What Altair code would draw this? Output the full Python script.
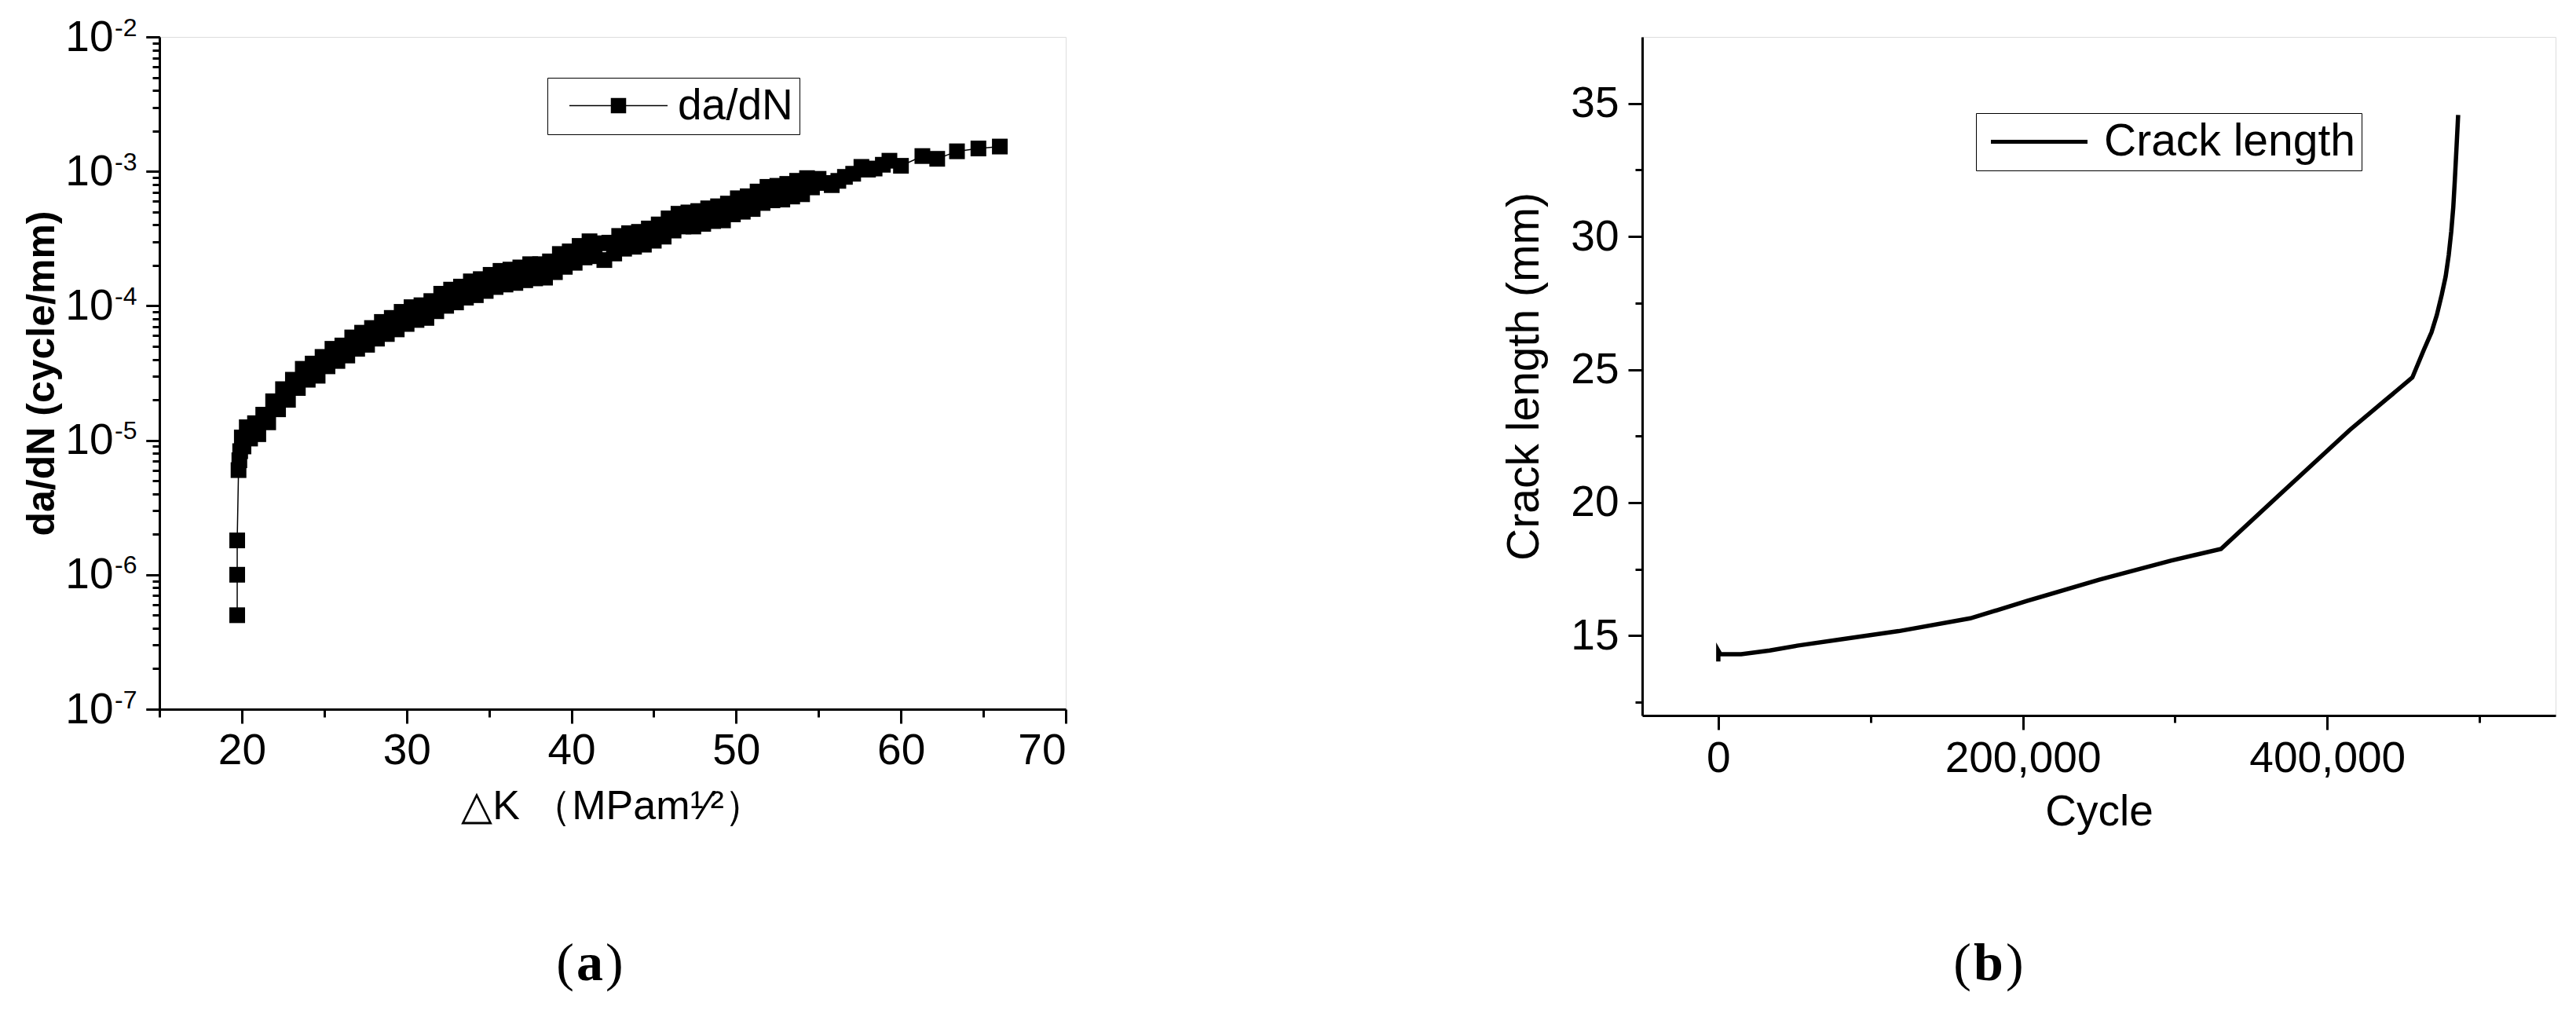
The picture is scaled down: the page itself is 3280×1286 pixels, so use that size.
import json
import altair as alt
import pandas as pd

# ---------------- Panel (a): da/dN vs delta K ----------------
dk = [19.72, 19.72, 19.72, 19.80, 19.85, 19.90, 20.0, 20.1, 20.3, 20.5, 20.8, 21.0,
      21.3, 21.6, 21.9, 22.2, 22.5, 22.8, 23.1, 23.4, 23.7, 24.0, 24.3, 24.6,
      24.9, 25.2, 25.5, 25.8, 26.1, 26.4, 26.7, 27.0, 27.3, 27.6, 27.9, 28.2,
      28.5, 28.8, 29.1, 29.4, 29.7, 30.0, 30.3, 30.6, 30.9, 31.2, 31.5, 31.8,
      32.1, 32.4, 32.7, 33.0, 33.3, 33.6, 33.9, 34.2, 34.5, 34.8, 35.1, 35.4,
      35.7, 36.0, 36.3, 36.6, 36.9, 37.2, 37.5, 37.8, 38.1, 38.4, 38.7, 39.0,
      39.3, 39.6, 39.9, 40.2, 40.5, 40.8, 41.1, 41.4, 41.7, 42.0, 42.3, 42.6,
      42.9, 43.2, 43.5, 43.8, 44.1, 44.4, 44.7, 45.0, 45.3, 45.6, 45.9, 46.2,
      46.5, 46.8, 47.1, 47.4, 47.7, 48.0, 48.3, 48.6, 48.9, 49.2, 49.5, 49.8,
      50.1, 50.4, 50.7, 51.0, 51.3, 51.6, 51.9, 52.2, 52.5, 52.8, 53.1, 53.4,
      53.7, 54.0, 54.3, 54.6, 55.0, 55.4, 55.8, 56.2, 56.6, 57.1, 57.6, 58.0,
      58.4, 58.9, 59.3, 60.0, 61.3, 62.2, 63.4, 64.7, 66.0]
dadn = [5.0e-7, 1.0e-6, 1.8e-6, 6.0e-6, 7.1e-6, 8.3e-6, 1.05e-5, 9.0e-6, 1.25e-5, 1.03e-5, 1.34e-5, 1.11e-5,
        1.55e-5, 1.36e-5, 1.95e-5, 1.70e-5, 2.40e-5, 2.00e-5, 2.82e-5, 2.45e-5, 3.40e-5, 2.82e-5, 3.72e-5, 3.02e-5,
        4.17e-5, 3.55e-5, 4.79e-5, 3.89e-5, 5.07e-5, 4.27e-5, 5.82e-5, 4.79e-5, 6.31e-5, 5.13e-5, 6.84e-5, 5.70e-5,
        7.59e-5, 6.17e-5, 8.13e-5, 6.68e-5, 9.02e-5, 7.33e-5, 9.77e-5, 7.85e-5, 1.01e-4, 8.13e-5, 1.085e-4, 9.12e-5,
        1.23e-4, 1.00e-4, 1.32e-4, 1.06e-4, 1.39e-4, 1.15e-4, 1.52e-4, 1.20e-4, 1.58e-4, 1.29e-4, 1.70e-4, 1.38e-4,
        1.82e-4, 1.44e-4, 1.86e-4, 1.48e-4, 1.93e-4, 1.55e-4, 2.04e-4, 1.60e-4, 2.04e-4, 1.62e-4, 2.14e-4, 1.78e-4,
        2.43e-4, 1.95e-4, 2.54e-4, 2.09e-4, 2.79e-4, 2.29e-4, 3.02e-4, 2.34e-4, 2.92e-4, 2.19e-4, 2.95e-4, 2.45e-4,
        3.31e-4, 2.66e-4, 3.47e-4, 2.75e-4, 3.55e-4, 2.85e-4, 3.76e-4, 3.05e-4, 4.03e-4, 3.27e-4, 4.47e-4, 3.63e-4,
        4.84e-4, 3.89e-4, 4.95e-4, 3.89e-4, 5.07e-4, 4.07e-4, 5.31e-4, 4.27e-4, 5.50e-4, 4.32e-4, 5.76e-4, 4.79e-4,
        6.31e-4, 5.01e-4, 6.53e-4, 5.25e-4, 7.08e-4, 5.82e-4, 7.67e-4, 6.09e-4, 7.81e-4, 6.17e-4, 8.07e-4, 6.50e-4,
        8.51e-4, 6.76e-4, 8.91e-4, 7.60e-4, 8.8e-4, 8.2e-4, 7.9e-4, 8.5e-4, 9.1e-4, 9.6e-4, 1.08e-3, 1.03e-3,
        1.05e-3, 1.12e-3, 1.20e-3, 1.10e-3, 1.30e-3, 1.24e-3, 1.41e-3, 1.48e-3, 1.53e-3]

a_x_major = [20, 30, 40, 50, 60, 70]
a_x_minor = [15, 25, 35, 45, 55, 65]
a_y_major = [1e-7, 1e-6, 1e-5, 1e-4, 1e-3, 1e-2]
a_y_exponents = ["-7", "-6", "-5", "-4", "-3", "-2"]
a_y_minor = [m * 10.0 ** e for e in range(-7, -2) for m in range(2, 10)]

# ---------------- Panel (b): crack length vs cycle ----------------
cycles = [0, 0, 1400, 15000, 33800, 52600, 80800, 118500, 165500, 203200, 250200,
          297300, 330200, 367800, 414800, 455900, 463400, 468500, 472000, 475200,
          477800, 479800, 481500, 482800, 483800, 484800, 486000]
crack = [14.03, 14.44, 14.30, 14.30, 14.44, 14.63, 14.86, 15.17, 15.65, 16.31, 17.10,
         17.82, 18.26, 20.25, 22.73, 24.70, 25.73, 26.40, 27.05, 27.81,
         28.50, 29.30, 30.20, 31.10, 32.10, 33.20, 34.57]

b_x_major = [0, 200000, 400000]
b_x_minor = [100000, 300000, 500000]
b_y_major = [15, 20, 25, 30, 35]
b_y_minor = [12.5, 17.5, 22.5, 27.5, 32.5]

FONT = "Liberation Sans"
SERIF = "Liberation Serif"
W_A, H_A = 1154, 856
W_B, H_B = 1163, 864

df_a = pd.DataFrame({"dK": dk, "dadN": dadn, "order": list(range(len(dk))), "series": "da/dN"})
df_b = pd.DataFrame({"cycle": cycles, "length": crack, "order": list(range(len(cycles))), "series": "Crack length"})

AX = dict(domainColor="black", domainWidth=3, tickColor="black", tickWidth=3,
          labelFont=FONT, labelFontSize=55, labelColor="black", labelLimit=2000,
          titleFont=FONT, titleColor="black", titleLimit=3000, grid=False)

xs_a = alt.Scale(domain=[15, 70], nice=False, zero=False)
ys_a = alt.Scale(type="log", domain=[1e-7, 1e-2], nice=False)

# legend symbols (path units are 10 px with symbolSize 400)
LEG_PATH_A = "M-6.25,0H-0.9M0.9,0H6.25M-0.9,-0.9H0.9V0.9H-0.9Z"
LEG_PATH_B = "M-6.15,0H6.15"

line_a = alt.Chart(df_a).mark_line(strokeWidth=1.5).encode(
    x=alt.X("dK:Q", scale=xs_a, axis=alt.Axis(
        values=a_x_major, orient="bottom", tickSize=18, labelPadding=8,
        title="△K （MPam¹⁄²）", titleFontSize=52, titleFontWeight="normal",
        titlePadding=18, **AX)),
    y=alt.Y("dadN:Q", scale=ys_a, axis=alt.Axis(
        values=a_y_major, orient="left", tickSize=17, labelExpr="'10'", labelPadding=42,
        title="da/dN (cycle/mm)", titleFontSize=50, titleFontWeight="bold",
        titlePadding=4, **AX)),
    order="order:Q",
    color=alt.Color("series:N", scale=alt.Scale(domain=["da/dN"], range=["black"]),
                    legend=alt.Legend(title=None, orient="none", legendX=494, legendY=52,
                                      symbolType=LEG_PATH_A, symbolSize=400,
                                      symbolStrokeWidth=1.5, symbolFillColor="black",
                                      symbolStrokeColor="black", symbolOffset=55,
                                      labelFont=FONT, labelFontSize=55, labelColor="black",
                                      labelOffset=48, labelLimit=2000,
                                      strokeColor="black", padding=8)),
)

exp_expr = "[" + ",".join(json.dumps(s) for s in a_y_exponents) + "][round(log(datum.value)/LN10) + 7]"

pts_a = alt.Chart(df_a).mark_square(size=400, color="black", opacity=1).encode(
    x=alt.X("dK:Q", scale=xs_a, axis=alt.Axis(
        values=a_x_minor, orient="bottom", tickSize=10, labels=False, domain=False,
        title=None, tickColor="black", tickWidth=3, grid=False)),
    y=alt.Y("dadN:Q", scale=ys_a, axis=alt.Axis(
        values=a_y_major, orient="left", tickSize=17, labelExpr=exp_expr, labelPadding=12,
        labelFont=FONT, labelFontSize=32, labelColor="black", labelOffset=-12,
        domain=False, title=None, tickColor="black", tickWidth=3, grid=False)),
)

minor_a = alt.Chart(df_a).mark_point(opacity=0).encode(
    x=alt.X("dK:Q", scale=xs_a, axis=None),
    y=alt.Y("dadN:Q", scale=ys_a, axis=alt.Axis(
        values=a_y_minor, orient="left", tickSize=9, labels=False, domain=False,
        title=None, tickColor="black", tickWidth=3, grid=False)),
)

cap_a = pd.DataFrame({"t": ["(", "a", ")"]})
cap_a_open = alt.Chart(cap_a.iloc[[0]]).mark_text(font=SERIF, fontSize=68, align="right", baseline="alphabetic", color="black").encode(
    text="t:N", x=alt.value(528), y=alt.value(1201))
cap_a_mid = alt.Chart(cap_a.iloc[[1]]).mark_text(font=SERIF, fontSize=68, fontWeight="bold", align="center", baseline="alphabetic", color="black").encode(
    text="t:N", x=alt.value(548), y=alt.value(1201))
cap_a_close = alt.Chart(cap_a.iloc[[2]]).mark_text(font=SERIF, fontSize=68, align="left", baseline="alphabetic", color="black").encode(
    text="t:N", x=alt.value(568), y=alt.value(1201))

panel_a = alt.layer(line_a, pts_a, minor_a, cap_a_open, cap_a_mid, cap_a_close).resolve_axis(
    x="independent", y="independent").properties(width=W_A, height=H_A)

xs_b = alt.Scale(domain=[-50000, 550000], nice=False, zero=False)
ys_b = alt.Scale(domain=[12, 37.5], nice=False, zero=False)

line_b = alt.Chart(df_b).mark_line(strokeWidth=5.5).encode(
    x=alt.X("cycle:Q", scale=xs_b, axis=alt.Axis(
        values=b_x_major, format=",d", orient="bottom", tickSize=18, labelPadding=10,
        title="Cycle", titleFontSize=55, titleFontWeight="normal", titlePadding=14, **AX)),
    y=alt.Y("length:Q", scale=ys_b, axis=alt.Axis(
        values=b_y_major, orient="left", tickSize=18, labelPadding=12,
        title="Crack length (mm)", titleFontSize=57, titleFontWeight="normal",
        titlePadding=29, **AX)),
    order="order:Q",
    color=alt.Color("series:N", scale=alt.Scale(domain=["Crack length"], range=["black"]),
                    legend=alt.Legend(title=None, orient="none", legendX=425, legendY=97,
                                      symbolType=LEG_PATH_B, symbolSize=400,
                                      symbolStrokeWidth=5, symbolStrokeColor="black",
                                      symbolOffset=44,
                                      labelFont=FONT, labelFontSize=57, labelColor="black",
                                      labelOffset=54, labelLimit=2000,
                                      strokeColor="black", padding=8)),
)

minor_b = alt.Chart(df_b).mark_point(opacity=0).encode(
    x=alt.X("cycle:Q", scale=xs_b, axis=alt.Axis(
        values=b_x_minor, orient="bottom", tickSize=9, labels=False, domain=False,
        title=None, tickColor="black", tickWidth=3, grid=False)),
    y=alt.Y("length:Q", scale=ys_b, axis=alt.Axis(
        values=b_y_minor, orient="left", tickSize=9, labels=False, domain=False,
        title=None, tickColor="black", tickWidth=3, grid=False)),
)

cap_b = pd.DataFrame({"t": ["(", "b", ")"]})
cap_b_open = alt.Chart(cap_b.iloc[[0]]).mark_text(font=SERIF, fontSize=68, align="right", baseline="alphabetic", color="black").encode(
    text="t:N", x=alt.value(419), y=alt.value(1201))
cap_b_mid = alt.Chart(cap_b.iloc[[1]]).mark_text(font=SERIF, fontSize=68, fontWeight="bold", align="center", baseline="alphabetic", color="black").encode(
    text="t:N", x=alt.value(441), y=alt.value(1201))
cap_b_close = alt.Chart(cap_b.iloc[[2]]).mark_text(font=SERIF, fontSize=68, align="left", baseline="alphabetic", color="black").encode(
    text="t:N", x=alt.value(463), y=alt.value(1201))

panel_b = alt.layer(line_b, minor_b, cap_b_open, cap_b_mid, cap_b_close).resolve_axis(
    x="independent", y="independent").properties(width=W_B, height=H_B)

chart = alt.hconcat(panel_a, panel_b, spacing=734, bounds="flush").resolve_scale(
    color="independent").properties(
    padding={"left": 20, "top": 10, "right": 0, "bottom": 0}
).configure_view(stroke="black", strokeWidth=3).configure(background="white")

chart.save("out.html", embed_options={"renderer": "svg", "actions": False})
